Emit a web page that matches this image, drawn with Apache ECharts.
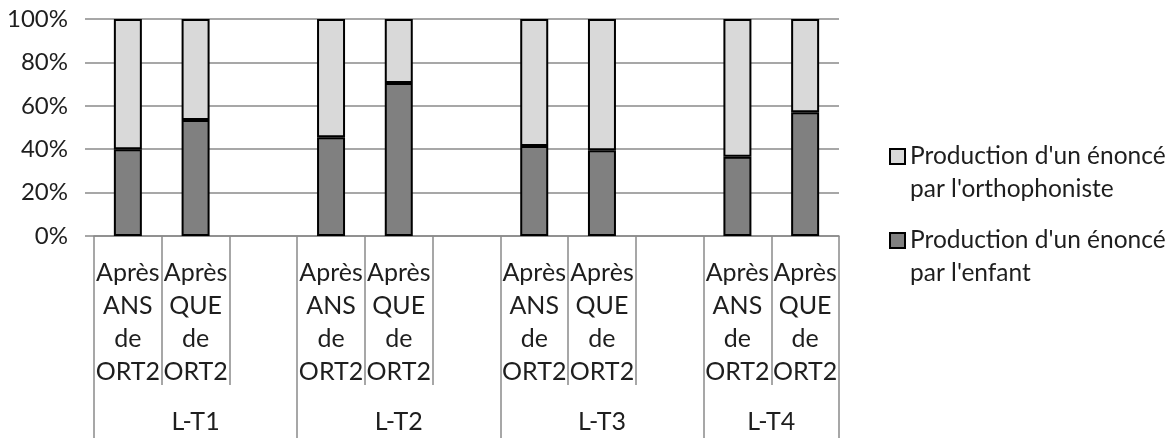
<!DOCTYPE html>
<html>
<head>
<meta charset="utf-8">
<script src="https://cdn.jsdelivr.net/npm/echarts@6/dist/echarts.min.js"></script>
<style>
  html, body { margin: 0; padding: 0; background: #fff; }
  #chart { width: 1173px; height: 438px; }
</style>
</head>
<body>
<div id="chart"></div>
<script>
'use strict';

// 11 slots: two bars per test, an empty slot between groups
var categories = ['T1-ANS', 'T1-QUE', 'T1-gap', 'T2-ANS', 'T2-QUE', 'T2-gap',
                  'T3-ANS', 'T3-QUE', 'T3-gap', 'T4-ANS', 'T4-QUE'];
var slotLabels = ['Après\nANS\nde\nORT2', 'Après\nQUE\nde\nORT2', '',
                  'Après\nANS\nde\nORT2', 'Après\nQUE\nde\nORT2', '',
                  'Après\nANS\nde\nORT2', 'Après\nQUE\nde\nORT2', '',
                  'Après\nANS\nde\nORT2', 'Après\nQUE\nde\nORT2'];
var groupLabels = ['L-T1', 'L-T2', 'L-T3', 'L-T4'];
var groupCenters = [1.5, 4.5, 7.5, 10];
var groupBounds = [0, 3, 6, 9, 11];

var nameEnfant = "Production d'un énoncé\npar l'enfant";
var nameOrtho = "Production d'un énoncé\npar l'orthophoniste";
var enfant = [40, 53.5, null, 45.5, 70.5, null, 41.5, 39.5, null, 36.5, 57];
var ortho  = [60, 46.5, null, 54.5, 29.5, null, 58.5, 60.5, null, 63.5, 43];
var yTicks = [0, 20, 40, 60, 80, 100];

var FONT = 'Lato';
var TXT = '#1e1e1e';
var chart = echarts.init(document.getElementById('chart'));

function legendFor(name, top) {
  return {
    data: [{ name: name, icon: 'rect' }], left: 889, top: top, padding: 0,
    itemWidth: 15, itemHeight: 15, itemGap: 0,
    formatter: function(n) { return '\n' + n; },
    textStyle: { fontFamily: FONT, fontSize: 24.5, lineHeight: 33, color: TXT }
  };
}

chart.setOption({
  animation: false,
  textStyle: { fontFamily: FONT },
  grid: { left: 94, right: 334, top: 19, bottom: 199 },
  legend: [legendFor(nameOrtho, 107), legendFor(nameEnfant, 191)],
  xAxis: [
    {
      type: 'category',
      data: categories,
      axisLine: { lineStyle: { color: '#8a8a8a', width: 1.5 } },
      axisTick: { show: true, length: 149, lineStyle: { color: '#8a8a8a', width: 1.5 } },
      axisLabel: {
        interval: 0, margin: 20, fontSize: 25, lineHeight: 33, color: TXT, align: 'center',
        formatter: function(v, i) { return slotLabels[i]; }
      }
    },
    {
      type: 'value',
      position: 'bottom',
      min: 0, max: 11,
      axisLine: { show: false },
      splitLine: { show: false },
      axisTick: { show: true, length: 205, customValues: groupBounds, lineStyle: { color: '#8a8a8a', width: 1.5 } },
      axisLabel: {
        margin: 169, fontSize: 25, lineHeight: 33, color: TXT,
        customValues: groupCenters,
        formatter: function(v) { return groupLabels[groupCenters.indexOf(v)]; }
      }
    }
  ],
  yAxis: {
    type: 'value',
    min: 0, max: 100, interval: 20,
    axisLine: { show: false },
    axisTick: { show: true, length: 9, lineStyle: { color: '#8a8a8a', width: 1.5 } },
    splitLine: { lineStyle: { color: '#8a8a8a', width: 1.5 } },
    axisLabel: {
      margin: 26, fontSize: 24, color: TXT,
      formatter: function(v) { return yTicks.indexOf(v) >= 0 ? v + '%' : ''; }
    }
  },
  series: [
    {
      name: nameEnfant, type: 'bar', stack: 'total', barWidth: 28,
      data: enfant,
      itemStyle: { color: '#808080', borderColor: '#000', borderWidth: 2 }
    },
    {
      name: nameOrtho, type: 'bar', stack: 'total', barWidth: 28,
      data: ortho,
      itemStyle: { color: '#d9d9d9', borderColor: '#000', borderWidth: 2 }
    }
  ]
});
</script>
</body>
</html>
